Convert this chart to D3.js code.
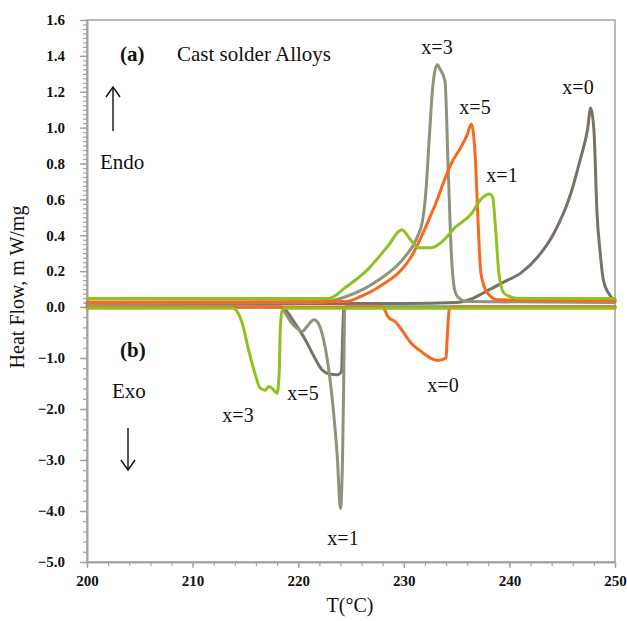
<!DOCTYPE html>
<html>
<head>
<meta charset="utf-8">
<script src="https://cdn.jsdelivr.net/npm/d3@7/dist/d3.min.js"></script>
<style>
  html, body { margin: 0; padding: 0; background: #fff; }
  svg { display: block; }
  text { font-family: "Liberation Serif", "Times New Roman", serif; fill: #111; }
</style>
</head>
<body>
<svg id="chart" width="627" height="621"></svg>
<script>
// Temperature axis and heat-flow tick values
const xTicks = [200, 210, 220, 230, 240, 250];
const yTicksUpper = [0.0, 0.2, 0.4, 0.6, 0.8, 1.0, 1.2, 1.4, 1.6];
const yTicksLower = [-5.0, -4.0, -3.0, -2.0, -1.0];

// (a) heating runs, cast solder alloys
const heatX0T = [200, 230, 235, 236.4, 237.9, 239.5, 241.1, 242.7, 244.2, 245.8, 246.7, 247.4, 247.7, 248.0, 248.3, 248.6, 248.9, 249.4, 249.9, 250];
const heatX0V = [0.02, 0.02, 0.025, 0.045, 0.09, 0.14, 0.19, 0.28, 0.41, 0.63, 0.82, 0.99, 1.11, 0.99, 0.52, 0.30, 0.15, 0.076, 0.04, 0.035];

const heatX3T = [200, 222, 224.5, 227.6, 230.1, 231.2, 231.8, 232.1, 232.4, 232.7, 233.0, 233.2, 233.4, 233.9, 234.2, 234.5, 234.8, 235.1, 236, 250];
const heatX3V = [0.02, 0.025, 0.057, 0.15, 0.28, 0.38, 0.49, 0.65, 0.93, 1.2, 1.33, 1.35, 1.33, 1.26, 0.78, 0.3, 0.1, 0.057, 0.03, 0.025];

const heatX5T = [200, 224.5, 226, 227.6, 230.7, 232.9, 234.5, 235.4, 236.0, 236.4, 236.8, 237.0, 237.3, 237.9, 238.9, 250];
const heatX5V = [0.028, 0.03, 0.06, 0.11, 0.28, 0.56, 0.80, 0.89, 0.96, 1.02, 0.80, 0.52, 0.19, 0.08, 0.04, 0.035];

const heatX1T = [200, 222.9, 224.5, 226.6, 228.5, 229.8, 230.7, 231.4, 232.6, 233.9, 234.8, 236.4, 237.3, 238.1, 238.4, 238.7, 239.0, 239.5, 240.8, 250];
const heatX1V = [0.048, 0.048, 0.11, 0.21, 0.34, 0.43, 0.37, 0.33, 0.33, 0.38, 0.44, 0.52, 0.6, 0.63, 0.615, 0.43, 0.19, 0.076, 0.048, 0.048];

// (b) cooling runs
const coolGreenT = [200, 213.8, 214.1, 214.7, 215.3, 216.0, 216.4, 216.9, 217.2, 217.5, 218.0, 218.2, 218.3, 218.5, 218.8, 250];
const coolGreenV = [-0.025, -0.025, -0.06, -0.32, -0.84, -1.37, -1.59, -1.63, -1.56, -1.59, -1.69, -1.3, -0.45, -0.06, -0.025, -0.025];

const coolGrayT = [200, 218.4, 218.8, 219.7, 220.7, 221.5, 222.3, 222.9, 223.7, 224.1, 224.2, 224.3, 224.5, 250];
const coolGrayV = [0, 0, -0.06, -0.32, -0.65, -0.97, -1.24, -1.31, -1.33, -1.27, -0.65, -0.06, 0, 0];

const coolOliveT = [200, 218.4, 218.6, 219.4, 220.1, 220.4, 220.8, 221.5, 221.9, 222.6, 223.2, 223.7, 224.0, 224.2, 224.3, 224.4, 224.6, 250];
const coolOliveV = [0, 0, -0.06, -0.32, -0.45, -0.48, -0.39, -0.25, -0.32, -0.84, -1.76, -2.93, -3.95, -2.93, -1.63, -0.06, 0, 0];

const coolOrangeT = [200, 228.0, 228.2, 228.5, 229.2, 229.8, 230.7, 231.7, 232.6, 233.2, 234.0, 234.1, 234.3, 234.5, 250];
const coolOrangeV = [0, 0, -0.06, -0.19, -0.29, -0.45, -0.71, -0.88, -1.01, -1.05, -1.0, -0.65, -0.06, 0, 0];

const colors = {
  gray: "#7a7169",
  olive: "#8f937a",
  orange: "#f7691d",
  green: "#8dc21f"
};

const svg = d3.select("#chart");
const plotLeft = 87, plotRight = 615, plotTop = 20, plotBottom = 562;

const x = d3.scaleLinear().domain([200, 250]).range([plotLeft, plotRight]);
// Split heat-flow scale: endothermic half is stretched above the zero line
const y = d3.scaleLinear().domain([-5, 0, 1.6]).range([plotBottom, 307, plotTop]);

const axisColor = "#a3a3a3";

// Plot frame
svg.append("rect")
  .attr("x", plotLeft).attr("y", plotTop)
  .attr("width", plotRight - plotLeft).attr("height", plotBottom - plotTop)
  .attr("fill", "none").attr("stroke", axisColor).attr("stroke-width", 1.5);

// Minor ticks
const yMinor = d3.range(0, 1.6001, 0.025).concat(d3.range(-5, 0, 0.2));
svg.append("g")
  .attr("transform", `translate(${plotLeft},0)`)
  .call(d3.axisLeft(y).tickValues(yMinor).tickSize(4).tickFormat(""))
  .call(g => g.select(".domain").remove())
  .call(g => g.selectAll("line").attr("stroke", axisColor).attr("stroke-width", 1.2));

svg.append("g")
  .attr("transform", `translate(0,${plotBottom})`)
  .call(d3.axisBottom(x).tickValues(d3.range(200, 251, 2)).tickSize(4).tickFormat(""))
  .call(g => g.select(".domain").remove())
  .call(g => g.selectAll("line").attr("stroke", axisColor).attr("stroke-width", 1.2));

// Major axes
const yAxis = svg.append("g")
  .attr("transform", `translate(${plotLeft},0)`)
  .call(d3.axisLeft(y).tickValues(yTicksLower.concat(yTicksUpper)).tickSize(7).tickPadding(15)
    .tickFormat(d3.format(".1f")).tickSizeOuter(0));
yAxis.select(".domain").attr("stroke", axisColor).attr("stroke-width", 2);
yAxis.selectAll("line").attr("stroke", axisColor).attr("stroke-width", 1.4);
yAxis.selectAll("text")
  .style("font-family", '"Liberation Serif", serif')
  .style("font-size", "15px").style("font-weight", "bold").attr("fill", "#111");

const xAxis = svg.append("g")
  .attr("transform", `translate(0,${plotBottom})`)
  .call(d3.axisBottom(x).tickValues(xTicks).tickSize(6).tickPadding(7).tickFormat(d3.format("d")).tickSizeOuter(0));
xAxis.select(".domain").attr("stroke", axisColor).attr("stroke-width", 2);
xAxis.selectAll("line").attr("stroke", axisColor).attr("stroke-width", 1.4);
xAxis.selectAll("text")
  .style("font-family", '"Liberation Serif", serif')
  .style("font-size", "15px").style("font-weight", "bold").attr("fill", "#111");

// Curves
const line = d3.line()
  .x(d => x(d[0]))
  .y(d => y(d[1]))
  .curve(d3.curveMonotoneX);

const series = [
  { t: coolGrayT, v: coolGrayV, c: colors.gray },
  { t: coolOliveT, v: coolOliveV, c: colors.olive },
  { t: coolOrangeT, v: coolOrangeV, c: colors.orange },
  { t: coolGreenT, v: coolGreenV, c: colors.green },
  { t: heatX0T, v: heatX0V, c: colors.gray },
  { t: heatX3T, v: heatX3V, c: colors.olive },
  { t: heatX5T, v: heatX5V, c: colors.orange },
  { t: heatX1T, v: heatX1V, c: colors.green }
];

svg.append("g").selectAll("path")
  .data(series)
  .join("path")
  .attr("d", s => line(s.t.map((t, i) => [t, s.v[i]])))
  .attr("fill", "none")
  .attr("stroke", s => s.c)
  .attr("stroke-width", 3)
  .attr("stroke-linejoin", "round")
  .attr("stroke-linecap", "round");

// Annotations
const ann = svg.append("g");
function label(txt, px, py, opts = {}) {
  ann.append("text")
    .attr("x", px).attr("y", py)
    .attr("text-anchor", opts.anchor || "middle")
    .style("font-size", (opts.size || 20) + "px")
    .style("font-weight", opts.bold ? "bold" : "normal")
    .text(txt);
}

label("(a)", 120, 61, { anchor: "start", size: 21, bold: true });
label("Cast solder Alloys", 177, 61, { anchor: "start", size: 21 });
label("Endo", 100, 169, { anchor: "start", size: 21 });
label("(b)", 120, 357, { anchor: "start", size: 21, bold: true });
label("Exo", 112, 398, { anchor: "start", size: 21 });

label("x=3", 437, 54);
label("x=5", 475, 114);
label("x=1", 502, 182);
label("x=0", 578, 94);
label("x=3", 238, 422);
label("x=5", 303, 400);
label("x=1", 343, 545);
label("x=0", 443, 392);

// Endo / Exo arrows
function arrow(ax, y1, y2) {
  const dir = y2 < y1 ? 1 : -1;
  const g = ann.append("g").attr("stroke", "#111").attr("stroke-width", 1.4).attr("fill", "none");
  g.append("line").attr("x1", ax).attr("y1", y1).attr("x2", ax).attr("y2", y2);
  g.append("path").attr("d", `M${ax - 7},${y2 + dir * 10} L${ax},${y2} L${ax + 7},${y2 + dir * 10}`);
}
arrow(113, 131, 87);
arrow(128, 428, 470);

// Axis titles
ann.append("text")
  .attr("transform", `translate(24,287) rotate(-90)`)
  .attr("text-anchor", "middle")
  .style("font-size", "20px")
  .text("Heat Flow, m W/mg");

ann.append("text")
  .attr("x", 350).attr("y", 612)
  .attr("text-anchor", "middle")
  .style("font-size", "20px")
  .text("T(°C)");
</script>
</body>
</html>
